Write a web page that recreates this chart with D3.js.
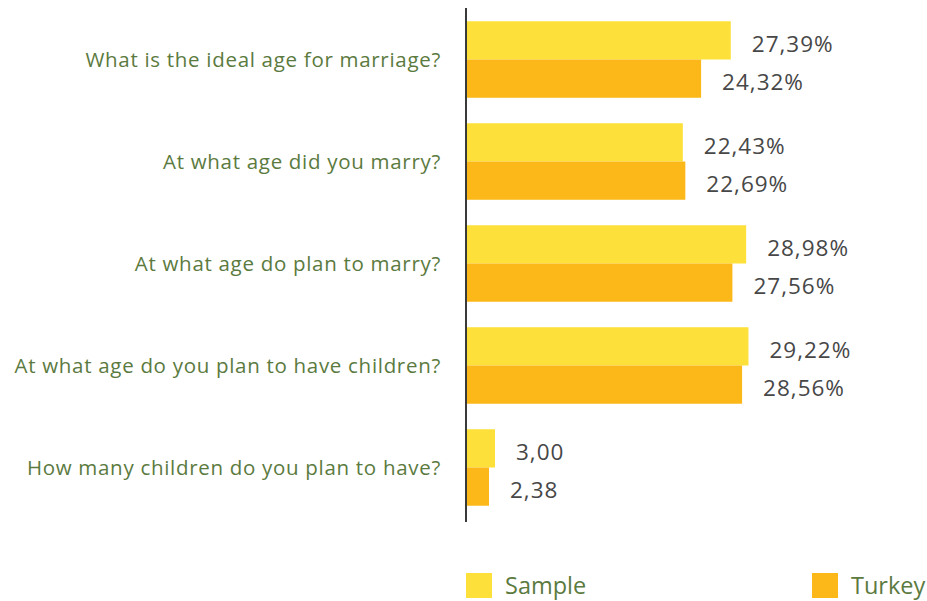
<!DOCTYPE html>
<html lang="en">
<head>
    <meta charset="UTF-8">
    <title>Marriage age bars</title>
    <script src="https://d3js.org/d3.v7.min.js"></script>
    <style>
        body { margin: 0; background: #fff; }
        .label { font-family: 'Open Sans', sans-serif; font-size: 20.5px; letter-spacing: 0.7px; fill: #5b7a40; }
        .value { font-family: 'Open Sans', sans-serif; font-size: 22.5px; letter-spacing: 1px; fill: #474747; }
        .legend-text { font-family: 'Open Sans', sans-serif; font-size: 23.5px; fill: #5b7a40; }
    </style>
</head>
<body>
    <div id="chart"></div>
    <script>
        const width = 927;
        const height = 601;

        const questions = [
            "What is the ideal age for marriage?",
            "At what age did you marry?",
            "At what age do plan to marry?",
            "At what age do you plan to have children?",
            "How many children do you plan to have?"
        ];
        const seriesNames = ["Sample", "Turkey"];
        const sampleValues = [27.39, 22.43, 28.98, 29.22, 3.00];
        const turkeyValues = [24.32, 22.69, 27.56, 28.56, 2.38];
        const valueLabels = {
            Sample: ["27,39%", "22,43%", "28,98%", "29,22%", "3,00"],
            Turkey: ["24,32%", "22,69%", "27,56%", "28,56%", "2,38"]
        };
        const colors = ["#fde03a", "#fbb818"];

        const svg = d3.select("#chart")
            .append("svg")
            .attr("width", width)
            .attr("height", height);

        const x = d3.scaleLinear().domain([0, 30]).range([466, 756]);
        const y = d3.scaleBand().domain(questions).range([8, 519]).paddingInner(0.25).paddingOuter(0.13);
        const ySub = d3.scaleBand().domain(seriesNames).range([0, y.bandwidth()]);

        const data = questions.map((q, i) => ({
            q: q,
            vals: [
                { s: "Sample", v: sampleValues[i], t: valueLabels.Sample[i] },
                { s: "Turkey", v: turkeyValues[i], t: valueLabels.Turkey[i] }
            ]
        }));

        const groups = svg.selectAll(".group")
            .data(data)
            .enter()
            .append("g")
            .attr("transform", d => `translate(0, ${y(d.q)})`);

        groups.selectAll("rect")
            .data(d => d.vals)
            .enter()
            .append("rect")
            .attr("x", x(0))
            .attr("y", d => ySub(d.s))
            .attr("width", d => x(d.v) - x(0))
            .attr("height", ySub.bandwidth())
            .attr("fill", (d, i) => colors[i]);

        groups.selectAll(".value")
            .data(d => d.vals)
            .enter()
            .append("text")
            .attr("class", "value")
            .attr("x", d => x(d.v) + 21)
            .attr("y", d => ySub(d.s) + ySub.bandwidth() / 2 + 4)
            .attr("dy", "0.35em")
            .text(d => d.t);

        // category labels
        svg.selectAll(".label")
            .data(questions)
            .enter()
            .append("text")
            .attr("class", "label")
            .attr("x", 441)
            .attr("y", d => y(d) + y.bandwidth() / 2)
            .attr("dy", "0.35em")
            .attr("text-anchor", "end")
            .text(d => d);

        // axis line
        svg.append("line")
            .attr("x1", x(0)).attr("x2", x(0))
            .attr("y1", 8).attr("y2", 522)
            .attr("stroke", "#3a3a3a")
            .attr("stroke-width", 2);

        // legend
        const legendX = [466, 812];
        const legend = svg.selectAll(".legend")
            .data(seriesNames)
            .enter()
            .append("g")
            .attr("transform", (d, i) => `translate(${legendX[i]}, 573)`);

        legend.append("rect")
            .attr("width", 26)
            .attr("height", 25)
            .attr("fill", (d, i) => colors[i]);

        legend.append("text")
            .attr("class", "legend-text")
            .attr("x", 39)
            .attr("y", 12.5)
            .attr("dy", "0.35em")
            .text(d => d);
    </script>
</body>
</html>
